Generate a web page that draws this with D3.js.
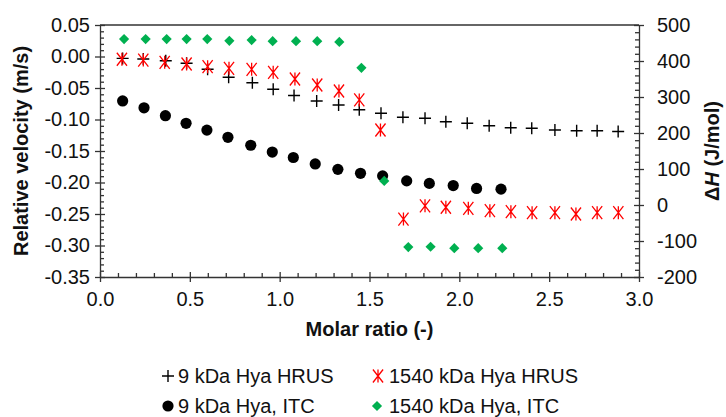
<!DOCTYPE html>
<html>
<head>
<meta charset="utf-8">
<script src="https://cdn.jsdelivr.net/npm/d3@7/dist/d3.min.js"></script>
<style>
  html, body { margin: 0; padding: 0; background: #fff; }
  svg { display: block; font-family: "Liberation Sans", Arial, sans-serif; }
</style>
</head>
<body>
<svg id="chart" width="726" height="417"></svg>
<script>
// ---------- DATA ----------
// 9 kDa Hya HRUS (left axis, relative velocity m/s)
const hrus9X = [0.126,0.241,0.366,0.482,0.599,0.716,0.848,0.964,1.080,1.206,1.328,1.443,1.564,1.686,1.809,1.925,2.044,2.166,2.286,2.403,2.532,2.653,2.767,2.884];
const hrus9Y = [-0.003,-0.004,-0.0067,-0.0107,-0.0203,-0.033,-0.0416,-0.052,-0.062,-0.0706,-0.077,-0.0845,-0.090,-0.0965,-0.098,-0.1035,-0.106,-0.110,-0.113,-0.114,-0.1167,-0.1178,-0.1178,-0.119];
// 1540 kDa Hya HRUS (left axis)
const hrus1540X = [0.122,0.241,0.360,0.482,0.599,0.718,0.844,0.964,1.085,1.209,1.330,1.443,1.561,1.689,1.809,1.925,2.050,2.170,2.287,2.405,2.532,2.649,2.767,2.885];
const hrus1540Y = [-0.0044,-0.0056,-0.0092,-0.0119,-0.0162,-0.0187,-0.0203,-0.0251,-0.0357,-0.0452,-0.0548,-0.069,-0.1167,-0.258,-0.237,-0.2393,-0.241,-0.2447,-0.2463,-0.2479,-0.2479,-0.250,-0.2479,-0.2479];
// 9 kDa Hya, ITC (right axis, ΔH J/mol)
const itc9X = [0.126,0.245,0.364,0.479,0.595,0.712,0.839,0.959,1.076,1.198,1.324,1.450,1.573,1.707,1.833,1.966,2.096,2.232];
const itc9Y = [289,270,248,227,208,188,166,147,132,114,99,88,81,67,60,54,46,44];
// 1540 kDa Hya, ITC (right axis)
const itc1540X = [0.134,0.254,0.371,0.482,0.597,0.720,0.844,0.961,1.091,1.209,1.332,1.455,1.582,1.716,1.840,1.972,2.105,2.239];
const itc1540Y = [461,461,461,461,461,456,458,455,455,455,453,381,67,-117,-116,-120,-120,-120];

const xTicks = [0,0.5,1,1.5,2,2.5,3];
const yLeftTicks = [0.05,0,-0.05,-0.10,-0.15,-0.20,-0.25,-0.30,-0.35];
const yRightTicks = [500,400,300,200,100,0,-100,-200];
const legendLabels = ["9 kDa Hya HRUS","1540 kDa Hya HRUS","9 kDa Hya, ITC","1540 kDa Hya, ITC"];

// ---------- LAYOUT ----------
const L = 100, R = 639, T = 25, B = 277;
const FS = 20;
const axisColor = "#333";
const red = "#ff0000", green = "#00b050";

const svg = d3.select("#chart");
const x = d3.scaleLinear().domain([0,3]).range([L,R]);
const yL = d3.scaleLinear().domain([-0.35,0.05]).range([B,T]);
const yR = d3.scaleLinear().domain([-200,500]).range([B,T]);

function styleAxis(g) {
  g.selectAll("path, line").attr("stroke", axisColor).attr("stroke-width", 1.3);
  g.selectAll("text").attr("font-size", FS).attr("fill", "#111").attr("font-family", "Liberation Sans, Arial, sans-serif");
}

// minor tick values
const xMinor = d3.range(0, 31).map(i => i/10).filter(v => Math.abs(v*2 - Math.round(v*2)) > 1e-6);
const yLMinor = d3.range(-35, 6).map(i => i/100).filter(v => Math.abs(v*20 - Math.round(v*20)) > 1e-6);
const yRMinor = d3.range(-200, 501, 20).filter(v => v % 100 !== 0);

// top border
svg.append("line").attr("x1", L).attr("x2", R).attr("y1", T).attr("y2", T)
  .attr("stroke", axisColor).attr("stroke-width", 1.3);

// X axis
const gx = svg.append("g").attr("transform", `translate(0,${B})`)
  .call(d3.axisBottom(x).tickValues(xTicks).tickFormat(d3.format(".1f")).tickSize(5).tickSizeOuter(0).tickPadding(10));
styleAxis(gx);
const gxIn = svg.append("g").attr("transform", `translate(0,${B})`)
  .call(d3.axisTop(x).tickValues(xTicks).tickFormat("").tickSize(5).tickSizeOuter(0));
styleAxis(gxIn); gxIn.select("path").remove();
const gxMin = svg.append("g").attr("transform", `translate(0,${B})`)
  .call(d3.axisTop(x).tickValues(xMinor).tickFormat("").tickSize(4).tickSizeOuter(0));
styleAxis(gxMin); gxMin.select("path").remove();

// Left axis
const gl = svg.append("g").attr("transform", `translate(${L},0)`)
  .call(d3.axisLeft(yL).tickValues(yLeftTicks).tickFormat(d3.format(".2f")).tickSize(5).tickSizeOuter(0).tickPadding(5));
styleAxis(gl);
gl.selectAll("text").text(d => d3.format(".2f")(d).replace("−","-"));
const glIn = svg.append("g").attr("transform", `translate(${L},0)`)
  .call(d3.axisRight(yL).tickValues(yLeftTicks).tickFormat("").tickSize(5).tickSizeOuter(0));
styleAxis(glIn); glIn.select("path").remove();
const glMin = svg.append("g").attr("transform", `translate(${L},0)`)
  .call(d3.axisRight(yL).tickValues(yLMinor).tickFormat("").tickSize(4).tickSizeOuter(0));
styleAxis(glMin); glMin.select("path").remove();

// Right axis
const gr = svg.append("g").attr("transform", `translate(${R},0)`)
  .call(d3.axisRight(yR).tickValues(yRightTicks).tickFormat(d => String(d)).tickSize(5).tickSizeOuter(0).tickPadding(13));
styleAxis(gr);
const grIn = svg.append("g").attr("transform", `translate(${R},0)`)
  .call(d3.axisLeft(yR).tickValues(yRightTicks).tickFormat("").tickSize(5).tickSizeOuter(0));
styleAxis(grIn); grIn.select("path").remove();
const grMin = svg.append("g").attr("transform", `translate(${R},0)`)
  .call(d3.axisLeft(yR).tickValues(yRMinor).tickFormat("").tickSize(4).tickSizeOuter(0));
styleAxis(grMin); grMin.select("path").remove();

// Axis titles
svg.append("text").attr("x", (L+R)/2).attr("y", 336).attr("text-anchor", "middle")
  .attr("font-size", FS).attr("font-weight", "bold").attr("fill", "#111").text("Molar ratio (-)");
svg.append("text").attr("transform", `translate(28,${(T+B)/2}) rotate(-90)`).attr("text-anchor", "middle")
  .attr("font-size", FS).attr("font-weight", "bold").attr("fill", "#111").text("Relative velocity (m/s)");
const rt = svg.append("text").attr("transform", `translate(719,${(T+B)/2}) rotate(-90)`).attr("text-anchor", "middle")
  .attr("font-size", FS).attr("font-weight", "bold").attr("fill", "#111");
rt.append("tspan").text("Δ");
rt.append("tspan").attr("font-style", "italic").text("H");
rt.append("tspan").text(" (J/mol)");

// ---------- MARKERS ----------
function plusPath(s) { return `M${-s},0H${s}M0,${-s}V${s}`; }
function starPath(s) { const d = s*0.78; return `M${-d},${-s}L${d},${s}M${d},${-s}L${-d},${s}M0,${-s}V${s}`; }

function drawPlus(g, cx, cy) {
  g.append("path").attr("transform", `translate(${cx},${cy})`).attr("d", plusPath(6))
    .attr("stroke", "#000").attr("stroke-width", 1.4).attr("fill", "none");
}
function drawStar(g, cx, cy) {
  g.append("path").attr("transform", `translate(${cx},${cy})`).attr("d", starPath(6.5))
    .attr("stroke", red).attr("stroke-width", 1.3).attr("fill", "none");
}
function drawCircle(g, cx, cy) {
  g.append("circle").attr("cx", cx).attr("cy", cy).attr("r", 5.6).attr("fill", "#000");
}
function drawDiamond(g, cx, cy) {
  g.append("path")
    .attr("d", d3.symbol().type(d3.symbolSquare).size(52)())
    .attr("transform", `translate(${cx},${cy}) rotate(45)`)
    .attr("fill", green);
}

const gp = svg.append("g");
itc9X.forEach((v,i) => drawCircle(gp, x(v), yR(itc9Y[i])));
itc1540X.forEach((v,i) => drawDiamond(gp, x(v), yR(itc1540Y[i])));
hrus9X.forEach((v,i) => drawPlus(gp, x(v), yL(hrus9Y[i])));
hrus1540X.forEach((v,i) => drawStar(gp, x(v), yL(hrus1540Y[i])));

// ---------- LEGEND ----------
const lg = svg.append("g");
const legendItems = [
  {mx: 168, tx: 178, y: 376, draw: drawPlus},
  {mx: 378, tx: 389, y: 376, draw: drawStar},
  {mx: 168, tx: 178, y: 406, draw: drawCircle},
  {mx: 377, tx: 389, y: 406, draw: drawDiamond}
];
legendItems.forEach((it, i) => {
  it.draw(lg, it.mx, it.y);
  lg.append("text").attr("x", it.tx).attr("y", it.y + 7).attr("font-size", FS).attr("fill", "#111")
    .text(legendLabels[i]);
});
</script>
</body>
</html>
